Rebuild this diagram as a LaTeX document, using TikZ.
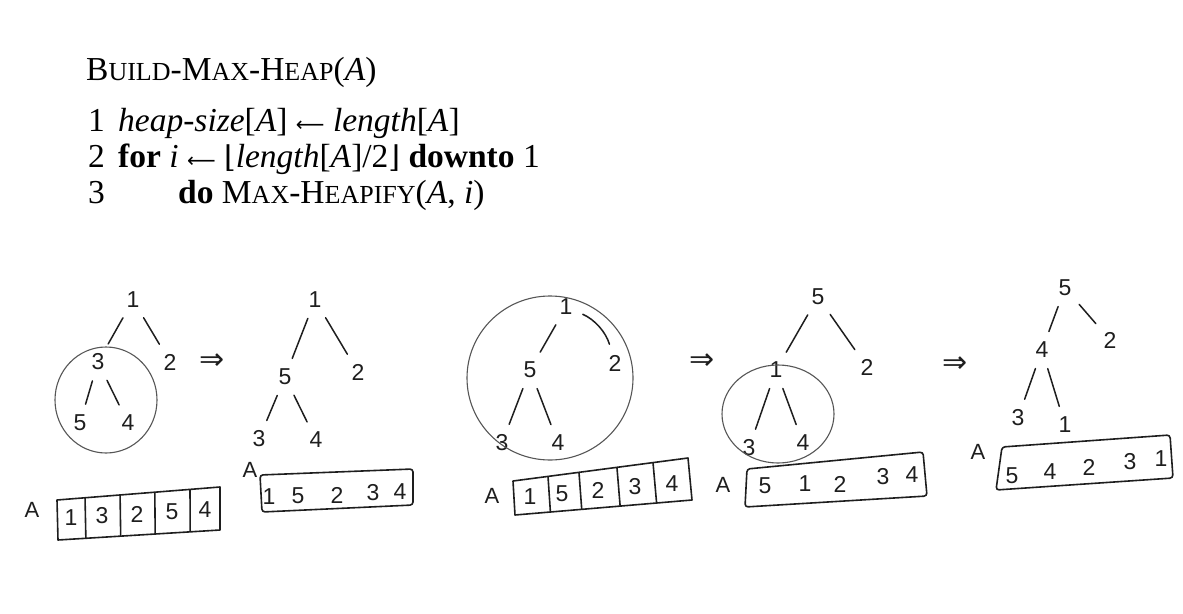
\documentclass[tikz,border=0pt]{standalone}
\usepackage{fontspec}
\setmainfont{Liberation Serif}
\newfontfamily\hand{Liberation Sans}
\newfontfamily\symf{DejaVu Serif}
\newfontfamily\symsans{DejaVu Sans}
\usetikzlibrary{calc}
\definecolor{ink}{HTML}{1E1E1E}
\newcommand\mysc[1]{{\fontsize{26}{30}\selectfont #1}}
\newcommand\lar{{\symsans\fontsize{20}{24}\selectfont ⟵}}
\newcommand\lfl{{\symf\fontsize{30}{34}\selectfont ⌊}}
\newcommand\rfl{{\symf\fontsize{30}{34}\selectfont ⌋}}
\begin{document}
\begin{tikzpicture}[x=1pt,y=-1pt,
  code/.style={anchor=base west, inner sep=0pt, font=\fontsize{33.5}{36}\selectfont},
  hw/.style={font=\hand\fontsize{23}{23}\selectfont, inner sep=1pt, text=ink},
  lbl/.style={font=\hand\fontsize{22}{22}\selectfont, inner sep=1pt, text=ink},
  edge/.style={draw=ink, line width=1.5pt, line cap=round, shorten <=10pt, shorten >=10pt},
  ring/.style={draw=ink!75, line width=1.1pt},
  box/.style={draw=ink, line width=1.6pt, line join=round},
  imp/.style={font=\symsans\fontsize{30}{30}\selectfont, text=ink, inner sep=0pt}]
\useasboundingbox (0,0) rectangle (1183,613);

% ---------------- pseudocode ----------------
\node[code] (title) at (86,80) {B\mysc{UILD}-M\mysc{AX}-H\mysc{EAP}(\textit{A})};
\node[code] (n1) at (88,131) {1};
\node[code] (l1) at (118,131) {\textit{heap-size}[\textit{A}] \lar{} \textit{length}[\textit{A}]};
\node[code] (n2) at (88,167) {2};
\node[code] (l2) at (118,167) {\textbf{for} \textit{i} \lar{} \lfl\textit{length}[\textit{A}]/2\rfl{} \textbf{downto} 1};
\node[code] (n3) at (88,203) {3};
\node[code] (l3) at (178,203) {\textbf{do} M\mysc{AX}-H\mysc{EAPIFY}(\textit{A}, \textit{i})};

% ---------------- tree 1 ----------------
\node[hw] (a1) at (133,300) {1};
\node[hw] (a3) at (98,362) {3};
\node[hw] (a2) at (170,362) {2};
\node[hw] (a5) at (80,423) {5};
\node[hw] (a4) at (128,423) {4};
\draw[edge] (a1) -- (a3);
\draw[edge] (a1) -- (a2);
\draw[edge] (a3) -- (a5);
\draw[edge] (a3) -- (a4);
\draw[ring] (106,400) ellipse [x radius=51, y radius=53];
\node[imp] (i1) at (212,362) {⇒};
\node[lbl] (A1) at (32,510) {A};
\coordinate (p1) at (57,500); \coordinate (q1) at (220,487);
\coordinate (r1) at (220,530); \coordinate (s1) at (58,540);
\draw[box] (p1) -- (q1) -- (r1) -- (s1) -- cycle;
\foreach \t in {0.172,0.387,0.60,0.816}
  \draw[box] ($(p1)!\t!(q1)$) -- ($(s1)!\t!(r1)$);
\node[hw] (v11) at (71,518) {1};
\node[hw] (v12) at (102,516) {3};
\node[hw] (v13) at (137,514) {2};
\node[hw] (v14) at (172,512) {5};
\node[hw] (v15) at (205,510) {4};

% ---------------- tree 2 ----------------
\node[hw] (b1) at (315,300) {1};
\node[hw] (b5) at (285,377) {5};
\node[hw] (b2) at (358,372) {2};
\node[hw] (b3) at (259,439) {3};
\node[hw] (b4) at (316,440) {4};
\draw[edge] (b1) -- (b5);
\draw[edge] (b1) -- (b2);
\draw[edge] (b5) -- (b3);
\draw[edge] (b5) -- (b4);
\node[lbl] (A2) at (250,470) {A};
\coordinate (p2) at (260,475); \coordinate (q2) at (413,469);
\coordinate (r2) at (413,505); \coordinate (s2) at (262,512);
\draw[box, rounded corners=3pt] (p2) -- (q2) -- (r2) -- (s2) -- cycle;
\node[hw] (v21) at (269,497) {1};
\node[hw] (v22) at (298,496) {5};
\node[hw] (v23) at (337,495) {2};
\node[hw] (v24) at (373,493) {3};
\node[hw] (v25) at (400,492) {4};

% ---------------- tree 3 ----------------
\node[hw] (c1) at (566,307) {1};
\node[hw] (c5) at (530,370) {5};
\node[hw] (c2) at (615,363) {2};
\node[hw] (c3) at (502,443) {3};
\node[hw] (c4) at (558,443) {4};
\draw[edge] (c1) -- (c5);
\draw[edge] (c1) to[bend left=25] (c2);
\draw[edge] (c5) -- (c3);
\draw[edge] (c5) -- (c4);
\draw[ring] (550,378) ellipse [x radius=83, y radius=82];
\node[imp] (i3) at (702,362) {⇒};
\node[lbl] (A3) at (492,496) {A};
\coordinate (p3) at (513,481); \coordinate (q3) at (688,458);
\coordinate (r3) at (692,500); \coordinate (s3) at (515,515);
\draw[box] (p3) -- (q3) -- (r3) -- (s3) -- cycle;
\foreach \t in {0.2,0.377,0.594,0.8}
  \draw[box] ($(p3)!\t!(q3)$) -- ($(s3)!\t!(r3)$);
\node[hw] (v31) at (530,497) {1};
\node[hw] (v32) at (562,494) {5};
\node[hw] (v33) at (598,490) {2};
\node[hw] (v34) at (635,487) {3};
\node[hw] (v35) at (672,484) {4};

% ---------------- tree 4 ----------------
\node[hw] (d5) at (818,297) {5};
\node[hw] (d1) at (776,370) {1};
\node[hw] (d2) at (867,367) {2};
\node[hw] (d3) at (749,448) {3};
\node[hw] (d4) at (803,443) {4};
\draw[edge] (d5) -- (d1);
\draw[edge] (d5) -- (d2);
\draw[edge] (d1) -- (d3);
\draw[edge] (d1) -- (d4);
\draw[ring] (778,414) ellipse [x radius=56, y radius=49];
\node[imp] (i4) at (955,365) {⇒};
\node[lbl] (A4) at (723,485) {A};
\coordinate (p4) at (747,469); \coordinate (q4) at (923,452);
\coordinate (r4) at (927,496); \coordinate (s4) at (745,507);
\draw[box, rounded corners=3pt] (p4) -- (q4) -- (r4) -- (s4) -- cycle;
\node[hw] (v41) at (765,486) {5};
\node[hw] (v42) at (805,484) {1};
\node[hw] (v43) at (840,484) {2};
\node[hw] (v44) at (883,477) {3};
\node[hw] (v45) at (912,475) {4};

% ---------------- tree 5 ----------------
\node[hw] (e5) at (1065,288) {5};
\node[hw] (e4) at (1042,350) {4};
\node[hw] (e2) at (1110,340) {2};
\node[hw] (e3) at (1018,418) {3};
\node[hw] (e1) at (1065,425) {1};
\draw[edge] (e5) -- (e4);
\draw[edge] (e5) -- (e2);
\draw[edge] (e4) -- (e3);
\draw[edge] (e4) -- (e1);
\node[lbl] (A5) at (978,452) {A};
\coordinate (p5) at (1002,447); \coordinate (q5) at (1170,435);
\coordinate (r5) at (1173,478); \coordinate (s5) at (996,490);
\draw[box, rounded corners=3pt] (p5) -- (q5) -- (r5) -- (s5) -- cycle;
\node[hw] (v51) at (1012,476) {5};
\node[hw] (v52) at (1050,472) {4};
\node[hw] (v53) at (1089,467) {2};
\node[hw] (v54) at (1130,462) {3};
\node[hw] (v55) at (1161,459) {1};
\end{tikzpicture}
\end{document}
